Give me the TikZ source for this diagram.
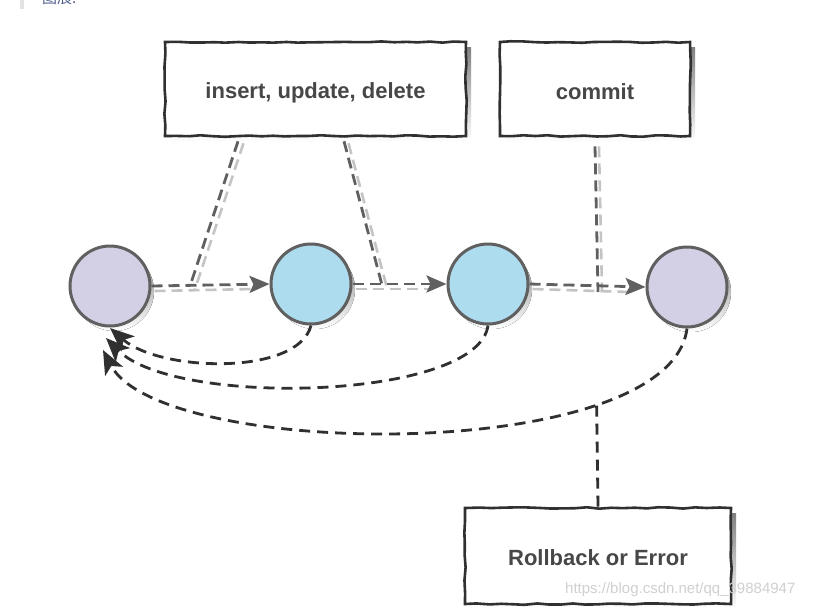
\documentclass[tikz,border=0pt]{standalone}
\usepackage{fontspec}
\setmainfont{Liberation Sans}
\newfontfamily\cjk{Noto Sans CJK SC}
\usetikzlibrary{arrows.meta,decorations.pathmorphing}
\definecolor{lav}{HTML}{D3D0E6}
\definecolor{sky}{HTML}{AEDCEF}
\definecolor{edgegrey}{HTML}{606060}
\definecolor{txt}{HTML}{474747}
\definecolor{shade}{HTML}{D0D0D0}
\definecolor{lightline}{HTML}{C4C4C4}
\definecolor{dark}{HTML}{303030}
\definecolor{wm}{HTML}{D0D0D0}
\definecolor{headtxt}{HTML}{4E5D8C}
\begin{document}
\begin{tikzpicture}[x=1pt,y=-1pt,
  state/.style={circle, draw=edgegrey, line width=3pt, minimum size=80pt, inner sep=0pt},
  labelbox/.style={draw=dark, line width=2.6pt, fill=white, inner sep=0pt,
    decorate, decoration={random steps, segment length=12pt, amplitude=0.8pt}},
  boxtext/.style={text=txt, font=\bfseries\fontsize{22}{26}\selectfont, inner sep=0pt},
  fwd/.style={draw=edgegrey, line width=2.8pt, dash pattern=on 11pt off 6pt,
    -{Stealth[length=20pt,width=17pt,inset=4pt]}},
  fwdshade/.style={draw=lightline, line width=2.6pt, dash pattern=on 11pt off 6pt},
  conn/.style={draw=edgegrey, line width=2.8pt, dash pattern=on 11pt off 6pt},
  back/.style={draw=dark, line width=2.8pt, dash pattern=on 11pt off 7pt,
    -{Stealth[length=24pt,width=20pt,inset=6pt]}}
]
\clip (0,0) rectangle (818,606);
\fill[white] (0,0) rectangle (818,606);

% header remnant
\fill[gray!22] (20,0) rectangle (24,9);
\node[anchor=base west, inner sep=0pt, text=headtxt, font=\cjk\fontsize{15}{15}\selectfont] (hdr) at (42,3) {图展:};

% box shadows
\fill[shade] (170,47) rectangle (471,142);
\fill[shade] (505,47) rectangle (695,142);
\fill[shade] (470,513) rectangle (736,609);

% boxes
\node[labelbox, minimum width=301pt, minimum height=94pt] (box1) at (315.5,89) {};
\node[labelbox, minimum width=190pt, minimum height=94pt] (box2) at (595,89) {};
\node[labelbox, minimum width=266pt, minimum height=96pt] (box3) at (598,556) {};
\node[boxtext] (lab1) at ([yshift=-4pt]box1.center) {insert, update, delete};
\node[boxtext] (lab2) at ([yshift=-3pt]box2.center) {commit};
\node[boxtext] (lab3) at ([yshift=-2pt]box3.center) {Rollback or Error};

% circle shadows
\fill[shade] (114,291) circle (40);
\fill[shade] (315,289) circle (40);
\fill[shade] (492,289) circle (40);
\fill[shade] (691,292) circle (40);

% states
\node[state, fill=lav] (c1) at (110,286) {};
\node[state, fill=sky] (c2) at (311,284) {};
\node[state, fill=sky] (c3) at (488,284) {};
\node[state, fill=lav] (c4) at (687,287) {};

% junction coordinates
\coordinate (j1) at (190,286);
\coordinate (j2) at (382,285);
\coordinate (j3) at (598,292);

% shaded copies of forward lines
\draw[fwdshade] ([xshift=3pt,yshift=-5pt]c1.east) -- ([xshift=-16pt,yshift=-5pt]c2.west);
\draw[fwdshade] ([xshift=3pt,yshift=-5pt]c2.east) -- ([xshift=-16pt,yshift=-5pt]c3.west);
\draw[fwdshade] ([xshift=3pt,yshift=-5pt]c3.east) -- ([xshift=-16pt,yshift=-5pt]c4.west);
\draw[fwdshade] ([xshift=-72pt,yshift=-6pt]box1.south) -- ([xshift=5pt,yshift=-3pt]j1);
\draw[fwdshade] ([xshift=33pt,yshift=-6pt]box1.south) -- ([xshift=5pt,yshift=-3pt]j2);
\draw[fwdshade] ([xshift=4pt,yshift=-9pt]box2.south) -- ([xshift=4pt]j3);

% connectors from boxes
\draw[conn] ([xshift=-77.5pt,yshift=-4pt]box1.south) -- (j1);
\draw[conn] ([xshift=28.5pt,yshift=-4pt]box1.south) -- (j2);
\draw[conn] ([yshift=-9pt]box2.south) -- (j3);

% forward arrows
\draw[fwd] (c1.east) -- (c2.west);
\draw[fwd] (c2.east) -- (c3.west);
\draw[fwd] (c3.east) -- (c4.west);

% back arrows
\coordinate (t1) at (110,328);
\coordinate (t2) at (106,338);
\coordinate (t3) at (103,350);
\draw[back] (c2.south) .. controls (298,376) and (160,372) .. (t1);
\draw[back] (c3.south) .. controls (478,400) and (175,408) .. (t2);
\draw[back] (c4.south) .. controls (670,465) and (160,460) .. (t3) coordinate[pos=0.25] (r);

% rollback connector
\draw[draw=dark, line width=2.8pt, dash pattern=on 11pt off 7pt] (box3.north) -- (r);

% watermark
\node[anchor=base west, inner sep=0pt, text=wm, font=\fontsize{15}{15}\selectfont] (wmk) at (565,593) {https://blog.csdn.net/qq\_39884947};
\end{tikzpicture}
\end{document}
